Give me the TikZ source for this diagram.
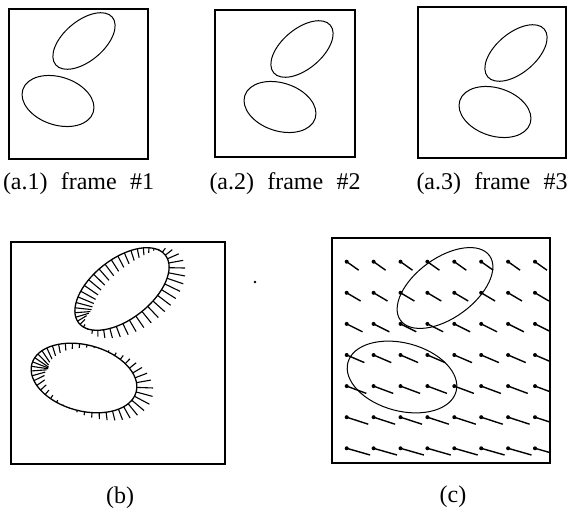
\documentclass[tikz,border=0pt]{standalone}
\usepackage{fontspec}
\setmainfont{Liberation Serif}
\usetikzlibrary{positioning}

\begin{document}
\begin{tikzpicture}[x=1pt,y=-1pt,
      frame/.style={draw,line width=1.2pt},
      blob/.style={draw,line width=1pt},
      tick/.style={line width=1.1pt},
      flow/.style={line width=1.4pt},
      lab/.style={font=\fontsize{24}{28}\selectfont,inner sep=0pt}]
    \useasboundingbox (0,0) rectangle (571,511);
    % three input frames
    \foreach \n/\xa/\ya/\xb/\yb/\ux/\uy/\lx/\ly in {
        1/9/9/148/159/84/41/58/101,
        2/215/10/355/157/302/49/280/107,
        3/418/7/566/158/516/53/495/112}{
      \draw[frame] (\xa,\ya) rectangle (\xb,\yb);
      \draw[blob,rotate around={40:(\ux,\uy)}] (\ux,\uy) ellipse [x radius=37, y radius=20];
      \draw[blob,rotate around={-18:(\lx,\ly)}] (\lx,\ly) ellipse [x radius=37, y radius=24];
      \node[lab] (cap\n) at ({(\xa+\xb)/2},184) {(a.\n)\hspace{0.3em} frame\hspace{0.3em} \#\n};
    }
    % normal flow along the contours
    \draw[frame] (11,242) rectangle (225,464);
    \foreach \cx/\cy/\a/\b/\r in {122/289/55/30/38, 84/378/54/33/-15}{
      \draw[blob,line width=1.3pt,rotate around={\r:(\cx,\cy)}] (\cx,\cy) ellipse [x radius=\a, y radius=\b];
      \foreach \t in {0,8,...,352}{
        \pgfmathsetmacro\px{\cx+\a*cos(\t)*cos(\r)+\b*sin(\t)*sin(\r)}
        \pgfmathsetmacro\py{\cy-\a*cos(\t)*sin(\r)+\b*sin(\t)*cos(\r)}
        \pgfmathsetmacro\nx{\b*cos(\t)*cos(\r)+\a*sin(\t)*sin(\r)}
        \pgfmathsetmacro\ny{-\b*cos(\t)*sin(\r)+\a*sin(\t)*cos(\r)}
        \pgfmathsetmacro\nn{sqrt(\nx*\nx+\ny*\ny)}
        \pgfmathsetmacro\len{(16*\nx+6*\ny)/\nn}
        \draw[tick] (\px,\py) -- ++({\len*\nx/\nn},{\len*\ny/\nn});
      }
    }
    \fill (255,282) circle (1.3pt);
    \node[lab] (capb) at (120,498) {(b)};
    % full flow field
    \draw[frame] (332,238) rectangle (550,463);
    \begin{scope}
      \clip (332,238) rectangle (550,463);
      \foreach \row in {0,...,6}{
        \foreach \col in {0,...,7}{
          \fill (346.7+26.9*\col,261.7+31.1*\row) circle (2pt);
          \draw[flow] (346.7+26.9*\col,261.7+31.1*\row) -- ++(12+1.9*\row,8.5-0.3*\row);
        }
      }
    \end{scope}
    \draw[blob,rotate around={36:(445,288)}] (445,288) ellipse [x radius=55, y radius=30];
    \draw[blob,rotate around={-15:(402,377)}] (402,377) ellipse [x radius=56, y radius=34];
    \node[lab] (capc) at (453,497) {(c)};
  \end{tikzpicture}
\end{document}
